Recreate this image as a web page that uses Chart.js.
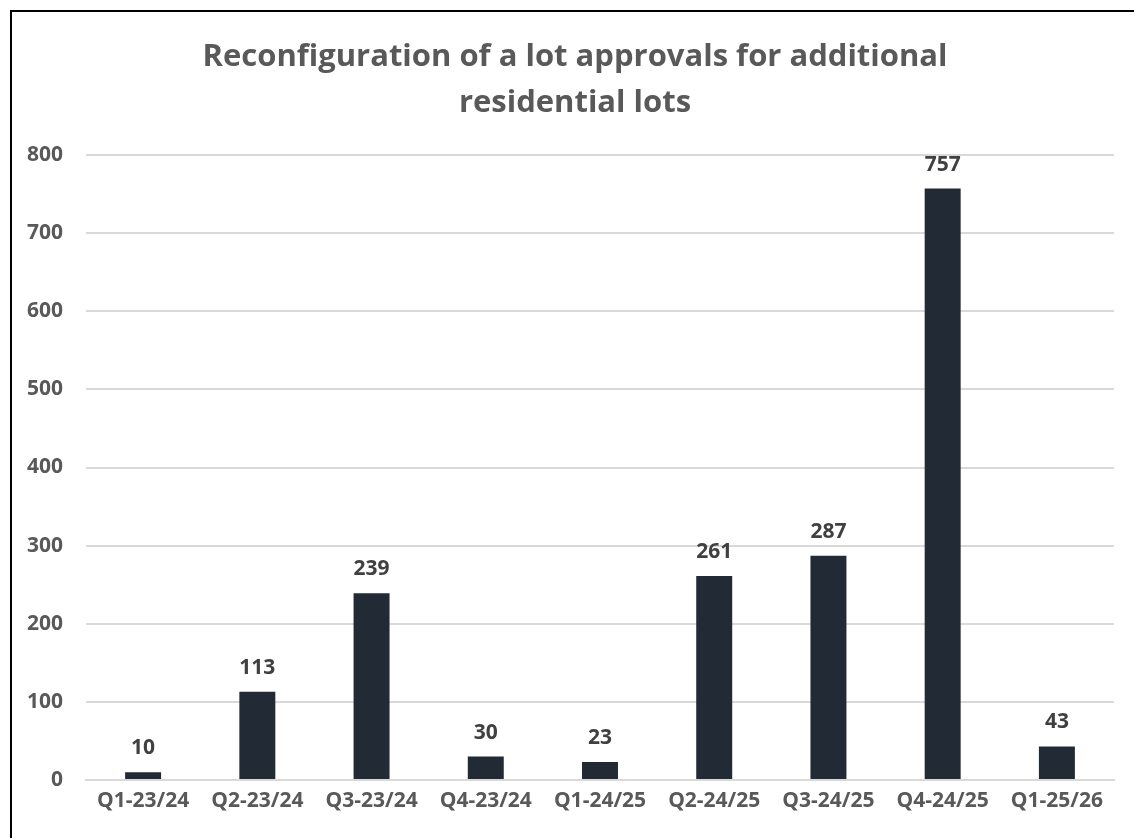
<!DOCTYPE html>
<html>
<head>
<meta charset="utf-8">
<script src="https://cdn.jsdelivr.net/npm/chart.js@4/dist/chart.umd.min.js"></script>
<style>
  html, body { margin: 0; padding: 0; background: #ffffff; overflow: hidden; }
  #wrap { position: absolute; left: 0; top: 0; width: 1134px; height: 838px; }
  #frame { position: absolute; left: 10px; top: 10px; width: 1140px; height: 860px; border: 2px solid #000; box-sizing: border-box; pointer-events: none; }
</style>
</head>
<body>
<div id="wrap">
  <canvas id="c" width="1134" height="838"></canvas>
  <div id="frame"></div>
</div>
<script>
const titleLines = ["Reconfiguration of a lot approvals for additional", "residential lots"];
const categories = ["Q1-23/24", "Q2-23/24", "Q3-23/24", "Q4-23/24", "Q1-24/25", "Q2-24/25", "Q3-24/25", "Q4-24/25", "Q1-25/26"];
const approvals = [10, 113, 239, 30, 23, 261, 287, 757, 43];
const yTicks = [0, 100, 200, 300, 400, 500, 600, 700, 800];

const FONT = "'Open Sans', 'Noto Sans', sans-serif";

const titleBlock = {
  id: 'titleBlock',
  afterDraw(chart) {
    const ctx = chart.ctx;
    ctx.save();
    ctx.font = "bold 31px " + FONT;
    ctx.fillStyle = '#595959';
    ctx.textAlign = 'center';
    ctx.textBaseline = 'middle';
    titleLines.forEach((line, i) => ctx.fillText(line, 575, 57 + i * 46));
    ctx.restore();
  }
};

const valueLabels = {
  id: 'valueLabels',
  afterDatasetsDraw(chart) {
    const ctx = chart.ctx;
    const meta = chart.getDatasetMeta(0);
    ctx.save();
    ctx.font = "bold 21px " + FONT;
    ctx.fillStyle = '#404040';
    ctx.textAlign = 'center';
    ctx.textBaseline = 'middle';
    meta.data.forEach((bar, i) => {
      ctx.fillText(String(chart.data.datasets[0].data[i]), bar.x, bar.y - 24);
    });
    ctx.restore();
  }
};

new Chart(document.getElementById('c'), {
  type: 'bar',
  data: {
    labels: categories,
    datasets: [{
      data: approvals,
      backgroundColor: '#222a35',
      borderWidth: 0,
      barPercentage: 0.315,
      categoryPercentage: 1.0
    }]
  },
  options: {
    responsive: false,
    animation: false,
    devicePixelRatio: 1,
    layout: { padding: { left: 0, right: 20, top: 155, bottom: 0 } },
    plugins: {
      legend: { display: false },
      tooltip: { enabled: false },
      title: { display: false }
    },
    scales: {
      x: {
        grid: { display: false, drawTicks: false },
        border: { display: true, color: '#d9d9d9', width: 2 },
        ticks: { color: '#595959', font: { family: FONT, size: 21, weight: 'bold' }, padding: 8, maxRotation: 0, autoSkip: false },
        afterFit(scale) { scale.height = 58; }
      },
      y: {
        min: 0,
        max: 800,
        afterBuildTicks(scale) { scale.ticks = yTicks.map(v => ({ value: v })); },
        grid: { color: '#d9d9d9', lineWidth: 2, drawTicks: false },
        border: { display: false },
        ticks: { color: '#595959', font: { family: FONT, size: 21, weight: 'bold' }, padding: 23 },
        afterFit(scale) { scale.width = 86; }
      }
    }
  },
  plugins: [valueLabels, titleBlock]
});
</script>
</body>
</html>
